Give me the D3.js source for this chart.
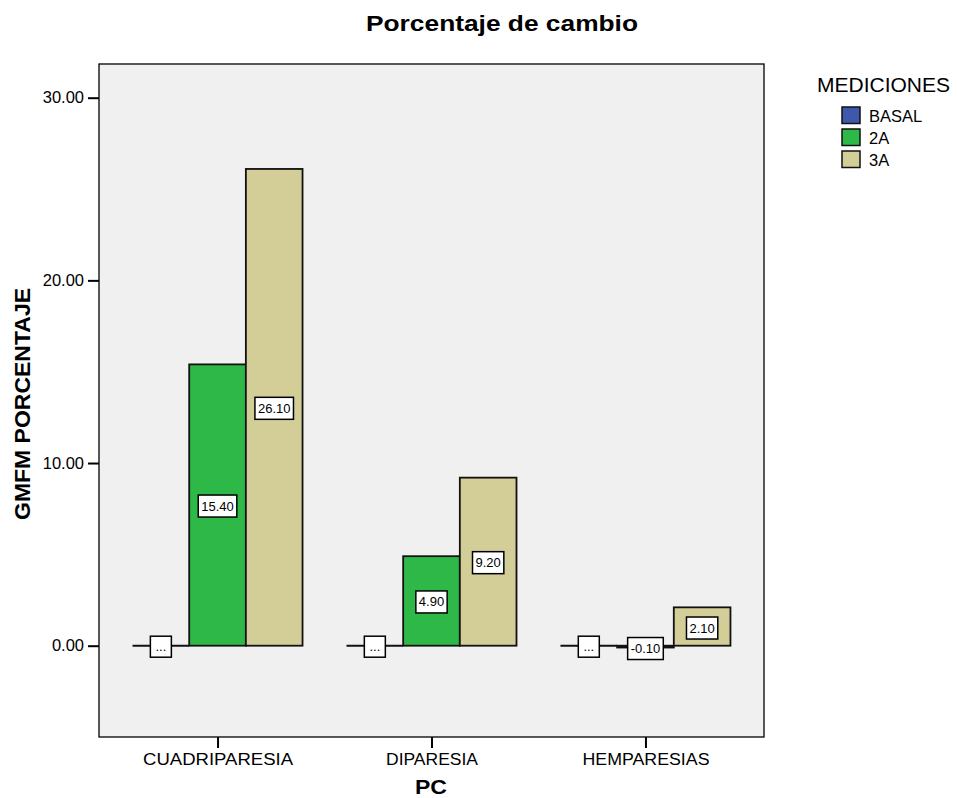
<!DOCTYPE html>
<html>
<head>
<meta charset="utf-8">
<script src="https://cdn.jsdelivr.net/npm/d3@7"></script>
<style>
  body { margin: 0; background: #ffffff; }
  svg text { font-family: "Liberation Sans", Arial, sans-serif; }
</style>
</head>
<body>
<svg id="chart" width="958" height="798"></svg>
<script>
// Groups along the x axis and measurement series
const categories = ["CUADRIPARESIA", "DIPARESIA", "HEMPARESIAS"];
const seriesNames = ["BASAL", "2A", "3A"];
const basalValues = [0, 0, 0];
const values2A = [15.40, 4.90, -0.10];
const values3A = [26.10, 9.20, 2.10];
const yTicks = [0, 10, 20, 30];
const seriesColors = ["#3E58AC", "#2EB848", "#D3CE97"];
// Rendered widths of the category labels (wide sans face)
const categoryLabelWidths = [150, 92, 127];

const seriesValues = [basalValues, values2A, values3A];

const svg = d3.select("#chart");

// Plot frame
const plot = { left: 99, right: 764, top: 64, bottom: 737 };

const y = d3.scaleLinear()
  .domain([0, 30])
  .range([645.7, 97.7]);

const x = d3.scalePoint()
  .domain(categories)
  .range([plot.left, plot.right])
  .padding(0.554);

const groupWidth = 170;
const xSub = d3.scaleBand()
  .domain(seriesNames)
  .range([-groupWidth / 2, groupWidth / 2])
  .padding(0);

// Background of the plot area
svg.append("rect")
  .attr("x", plot.left).attr("y", plot.top)
  .attr("width", plot.right - plot.left)
  .attr("height", plot.bottom - plot.top)
  .attr("fill", "#F0F0F0")
  .attr("stroke", "none");

// Bars
const barData = [];
categories.forEach((c, ci) => {
  seriesNames.forEach((s, si) => {
    barData.push({ cat: c, series: s, si, value: seriesValues[si][ci] });
  });
});

const bars = svg.append("g");
bars.selectAll("rect")
  .data(barData.filter(d => d.value !== 0))
  .join("rect")
  .attr("x", d => x(d.cat) + xSub(d.series))
  .attr("y", d => Math.min(y(d.value), y(0)))
  .attr("width", xSub.bandwidth())
  .attr("height", d => Math.abs(y(d.value) - y(0)))
  .attr("fill", d => seriesColors[d.si])
  .attr("stroke", "#111")
  .attr("stroke-width", 1.8);

// Zero-valued bars collapse to a flat outline
bars.selectAll("line")
  .data(barData.filter(d => d.value === 0))
  .join("line")
  .attr("x1", d => x(d.cat) + xSub(d.series))
  .attr("x2", d => x(d.cat) + xSub(d.series) + xSub.bandwidth())
  .attr("y1", y(0)).attr("y2", y(0))
  .attr("stroke", "#111")
  .attr("stroke-width", 2);

// Value labels in white boxes, centred on each bar
const labels = svg.append("g");
barData.forEach(d => {
  const cx = x(d.cat) + xSub(d.series) + xSub.bandwidth() / 2;
  const isZero = d.value === 0;
  const text = isZero ? "..." : d.value.toFixed(2);
  const barH = Math.abs(y(d.value) - y(0));
  let cy = (y(d.value) + y(0)) / 2 + 1;
  if (barH < 22) cy = Math.max(y(d.value), y(0)) + 1;
  if (barH >= 22 && barH < 60) cy += 0.5;
  const g = labels.append("g");
  const t = g.append("text")
    .attr("x", cx).attr("y", cy)
    .attr("text-anchor", "middle")
    .attr("dominant-baseline", "central")
    .attr("font-size", 13)
    .attr("fill", "#000")
    .text(text);
  const bb = t.node().getBBox();
  const w = isZero ? 21 : bb.width + 6;
  const h = isZero ? 21 : 22;
  g.insert("rect", "text")
    .attr("x", cx - w / 2).attr("y", cy - h / 2)
    .attr("width", w).attr("height", h)
    .attr("fill", "#fff")
    .attr("stroke", "#000")
    .attr("stroke-width", 1.5);
});

// Frame lines
svg.append("rect")
  .attr("x", plot.left).attr("y", plot.top)
  .attr("width", plot.right - plot.left)
  .attr("height", plot.bottom - plot.top)
  .attr("fill", "none")
  .attr("stroke", "#000")
  .attr("stroke-width", 1.3);

// Y axis
const yAxis = svg.append("g")
  .attr("transform", `translate(${plot.left},0)`)
  .call(d3.axisLeft(y).tickValues(yTicks).tickFormat(d3.format(".2f")).tickSize(11).tickPadding(4));
yAxis.select(".domain").remove();
yAxis.selectAll(".tick line").attr("stroke", "#000").attr("stroke-width", 2);
yAxis.selectAll(".tick text")
  .attr("font-size", 16.5)
  .attr("fill", "#000");

// X axis
const xAxis = svg.append("g")
  .attr("transform", `translate(0,${plot.bottom})`)
  .call(d3.axisBottom(x).tickSize(11).tickPadding(6));
xAxis.select(".domain").remove();
xAxis.selectAll(".tick line").attr("stroke", "#000").attr("stroke-width", 2);
xAxis.selectAll(".tick text")
  .attr("font-size", 16)
  .attr("dy", null)
  .attr("y", 28)
  .attr("fill", "#000")
  .attr("textLength", (d, i) => categoryLabelWidths[i])
  .attr("lengthAdjust", "spacingAndGlyphs");

// Title and axis titles
svg.append("text")
  .attr("x", 502).attr("y", 31)
  .attr("text-anchor", "middle")
  .attr("font-size", 22).attr("font-weight", "bold")
  .attr("textLength", 272).attr("lengthAdjust", "spacingAndGlyphs")
  .text("Porcentaje de cambio");

svg.append("text")
  .attr("transform", "translate(30,404) rotate(-90)")
  .attr("text-anchor", "middle")
  .attr("font-size", 22).attr("font-weight", "bold")
  .attr("textLength", 232).attr("lengthAdjust", "spacingAndGlyphs")
  .text("GMFM PORCENTAJE");

svg.append("text")
  .attr("x", 431).attr("y", 794)
  .attr("text-anchor", "middle")
  .attr("font-size", 20).attr("font-weight", "bold")
  .attr("textLength", 32).attr("lengthAdjust", "spacingAndGlyphs")
  .text("PC");

// Legend
const legend = svg.append("g");
legend.append("text")
  .attr("x", 817).attr("y", 92)
  .attr("font-size", 21)
  .text("MEDICIONES");
seriesNames.forEach((s, i) => {
  const ly = 107 + i * 22;
  legend.append("rect")
    .attr("x", 842).attr("y", ly)
    .attr("width", 18).attr("height", 16.5)
    .attr("fill", seriesColors[i])
    .attr("stroke", "#111").attr("stroke-width", 1.5);
  legend.append("text")
    .attr("x", 869).attr("y", ly + 15)
    .attr("font-size", 16.5)
    .text(s);
});
</script>
</body>
</html>
